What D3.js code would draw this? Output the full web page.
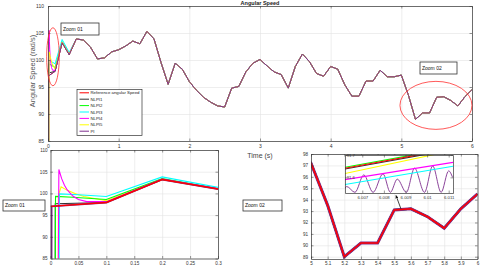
<!DOCTYPE html>
<html>
<head>
<meta charset="utf-8">
<script src="https://cdn.jsdelivr.net/npm/d3@7"></script>
<style>
  body { margin: 0; background: #fff; }
  text { font-family: "Liberation Sans", Arial, sans-serif; }
</style>
</head>
<body>
<div class="chart"></div>
<script>
// ---- data ----
const seriesNames = ['Reference angular Speed', 'NLPI1', 'NLPI2', 'NLPI3', 'NLPI4', 'NLPI5', 'PI']
const seriesColors = ['#ff0000', '#333333', '#00ff00', '#00ffff', '#ff00ff', '#ffff00', '#7e2f8e']

// sample times 0 .. 6 s every 0.1 s
const times = d3.range(61).map(i => +(i * 0.1).toFixed(1))

const refSpeed = [97.0, 97.9, 103.2, 101.0, 103.9, 103.7, 102.4, 100.2, 100.4, 101.5,
                  101.9, 102.6, 103.5, 103.0, 105.3, 103.9, 99.5, 95.5, 99.4, 98.3,
                  96.0, 94.4, 93.1, 92.2, 91.5, 91.3, 94.8, 95.1, 97.8, 99.4,
                  100.1, 98.9, 97.8, 97.3, 94.8, 98.8, 101.1, 99.7, 97.5, 97.0,
                  98.8, 98.3, 95.4, 93.3, 93.3, 96.1, 96.1, 98.1, 96.9, 96.9,
                  97.2, 93.5, 89.0, 90.2, 90.2, 93.1, 93.2, 92.5, 91.5, 93.2, 94.5]

// start-up transients [t, speed], after these each controller follows the reference
const nlpi1Start = [[0, 0], [0.008, 0], [0.0085, 97.6], [0.1, 97.9]]
const nlpi2Start = [[0, 0], [0.007, 0], [0.009, 99.3], [0.04, 99.1], [0.1, 98.6], [0.2, 103.4], [0.3, 101.1]]
const nlpi3Start = [[0, 0], [0.013, 0], [0.016, 99.9], [0.05, 99.7], [0.1, 99.3], [0.2, 103.8], [0.3, 101.4]]
const nlpi4Start = [[0, 0], [0.010, 0], [0.015, 105.5], [0.02, 103.4], [0.025, 101.9], [0.03, 100.8],
                    [0.04, 99.4], [0.05, 98.6], [0.065, 98.1], [0.1, 98.1], [0.2, 103.3], [0.3, 101.1]]
const nlpi5Start = [[0, 0], [0.0135, 0], [0.014, 99.5], [0.019, 101.5], [0.03, 100.7], [0.045, 99.9],
                    [0.06, 99.3], [0.1, 98.3], [0.2, 103.3], [0.3, 101.1]]
const piStart = [[0, 0], [0.0015, 0], [0.002, 97.0], [0.1, 97.9]]

// inset of the zoom 02 panel (t around 6.007 .. 6.011 s)
const insetRef = [[6.0062, 91.641], [6.0112, 91.729]]
const insetNlpi1 = [[6.0062, 91.637], [6.0112, 91.725]]
const insetNlpi2 = [[6.0062, 91.645], [6.0112, 91.733]]
const insetNlpi3 = [[6.0062, 91.568], [6.0112, 91.650]]
const insetNlpi4 = [[6.0062, 91.590], [6.0112, 91.667]]
const insetNlpi5 = [[6.0062, 91.617], [6.0112, 91.720]]
const insetPi = [[6.0062, 91.55], [6.00628, 91.559], [6.00666, 91.533], [6.00707, 91.611], [6.0075, 91.533],
                 [6.00796, 91.616], [6.0083, 91.533], [6.00862, 91.592], [6.00904, 91.533], [6.00942, 91.641],
                 [6.00988, 91.533], [6.01026, 91.651], [6.01065, 91.533], [6.011, 91.629], [6.01118, 91.6]]

const mainXTicks = [0, 1, 2, 3, 4, 5, 6]
const mainYTicks = [85, 90, 95, 100, 105, 110]
const zoom1XTicks = [0, 0.05, 0.1, 0.15, 0.2, 0.25, 0.3]
const zoom2XTicks = [5, 5.1, 5.2, 5.3, 5.4, 5.5, 5.6, 5.7, 5.8, 5.9, 6]
const zoom2YTicks = [89, 90, 91, 92, 93, 94, 95, 96, 97, 98]
const insetXTicks = [6.007, 6.008, 6.009, 6.01, 6.011]
const insetYTicks = [91.6, 91.7]

// ---- build series ----
const refPoints = times.map((t, i) => [t, refSpeed[i]])
function follow(start) {
    const last = start[start.length - 1][0]
    return start.concat(refPoints.filter(p => p[0] > last + 1e-9))
}
const allSeries = [refPoints, follow(nlpi1Start), follow(nlpi2Start), follow(nlpi3Start),
                   follow(nlpi4Start), follow(nlpi5Start), follow(piStart)]
const insetSeries = [insetRef, insetNlpi1, insetNlpi2, insetNlpi3, insetNlpi4, insetNlpi5, insetPi]

// ---- drawing ----
const svg = d3.select('.chart').append('svg')
    .attr('width', 480)
    .attr('height', 270)

svg.append('rect').attr('width', 480).attr('height', 270).attr('fill', '#fff')

let clipCount = 0

function Panel(o) {
    const x = d3.scaleLinear().domain(o.xDomain).range([o.left, o.right])
    const y = d3.scaleLinear().domain(o.yDomain).range([o.bottom, o.top])
    const w = o.right - o.left, h = o.bottom - o.top
    const g = svg.append('g')

    g.append('rect')
        .attr('x', o.left).attr('y', o.top).attr('width', w).attr('height', h)
        .attr('fill', '#fff')

    if (o.grid) {
        g.append('g')
            .attr('transform', `translate(0,${o.bottom})`)
            .call(d3.axisBottom(x).tickValues(o.xTicks).tickSize(-h).tickFormat(''))
            .call(a => a.select('.domain').remove())
            .selectAll('line').attr('stroke', '#e2e2e2').attr('stroke-width', 0.6)
        g.append('g')
            .attr('transform', `translate(${o.left},0)`)
            .call(d3.axisLeft(y).tickValues(o.yTicks).tickSize(-w).tickFormat(''))
            .call(a => a.select('.domain').remove())
            .selectAll('line').attr('stroke', '#e2e2e2').attr('stroke-width', 0.6)
    }

    const id = 'clip' + (clipCount++)
    g.append('clipPath').attr('id', id)
        .append('rect')
        .attr('x', o.left).attr('y', o.top).attr('width', w).attr('height', h)
    const plot = g.append('g').attr('clip-path', `url(#${id})`)

    const fs = o.fontSize || 5
    const styleAxis = a => {
        a.attr('font-size', fs).attr('font-family', '"Liberation Sans", Arial, sans-serif')
        a.selectAll('text').attr('fill', '#333')
        a.selectAll('line').attr('stroke', '#333').attr('stroke-width', 0.5)
        a.select('.domain').attr('stroke', '#333').attr('stroke-width', 0.7)
    }

    g.append('g')
        .attr('transform', `translate(0,${o.bottom})`)
        .call(d3.axisBottom(x).tickValues(o.xTicks).tickSize(-2.5).tickSizeOuter(0)
            .tickPadding(o.xPad || 3).tickFormat(o.xFmt || (d => d)))
        .call(styleAxis)
    g.append('g')
        .attr('transform', `translate(${o.left},0)`)
        .call(d3.axisLeft(y).tickValues(o.yTicks).tickSize(-2.5).tickSizeOuter(0)
            .tickPadding(o.yPad || 3).tickFormat(o.yFmt || (d => d)))
        .call(styleAxis)
    g.append('g')
        .attr('transform', `translate(0,${o.top})`)
        .call(d3.axisTop(x).tickValues(o.xTicks).tickSize(-2.5).tickSizeOuter(0).tickFormat(''))
        .call(styleAxis)
    g.append('g')
        .attr('transform', `translate(${o.right},0)`)
        .call(d3.axisRight(y).tickValues(o.yTicks).tickSize(-2.5).tickSizeOuter(0).tickFormat(''))
        .call(styleAxis)

    const line = d3.line().x(d => x(d[0])).y(d => y(d[1]))

    return { x, y, g, plot, line }
}

function labelBox(x0, y0, w, h, txt) {
    svg.append('rect')
        .attr('x', x0).attr('y', y0).attr('width', w).attr('height', h)
        .attr('fill', '#fff').attr('stroke', '#333').attr('stroke-width', 0.8)
    svg.append('text')
        .attr('x', x0 + 2).attr('y', y0 + h / 2 + 1.8)
        .attr('font-size', 5).attr('fill', '#111')
        .text(txt)
}

// main chart
const main = Panel({
    left: 48, right: 472, top: 6, bottom: 141,
    xDomain: [0, 6], yDomain: [85, 110],
    xTicks: mainXTicks, yTicks: mainYTicks, grid: true, yPad: 4
})

allSeries.forEach((s, i) => {
    main.plot.append('path')
        .datum(s)
        .attr('d', main.line)
        .attr('fill', 'none')
        .attr('stroke', seriesColors[i])
        .attr('stroke-width', 1)
})

svg.append('text')
    .attr('x', 260).attr('y', 4.5)
    .attr('text-anchor', 'middle')
    .attr('font-size', 5.5).attr('font-weight', 'bold').attr('fill', '#222')
    .text('Angular Speed')

svg.append('text')
    .attr('x', 260).attr('y', 158)
    .attr('text-anchor', 'middle')
    .attr('font-size', 7).attr('fill', '#444')
    .text('Time (s)')

svg.append('text')
    .attr('transform', 'translate(35,71) rotate(-90)')
    .attr('text-anchor', 'middle')
    .attr('font-size', 7.4).attr('fill', '#555')
    .text('Angular Speed (rad/s)')

// red ellipses marking the zoomed areas
svg.append('ellipse')
    .attr('cx', main.x(0.07)).attr('cy', main.y(100.6)).attr('rx', 6.3).attr('ry', 29)
    .attr('fill', 'none').attr('stroke', '#ff3030').attr('stroke-width', 0.8)
svg.append('ellipse')
    .attr('cx', main.x(5.49)).attr('cy', main.y(91.6)).attr('rx', 36).attr('ry', 24)
    .attr('fill', 'none').attr('stroke', '#ff3030').attr('stroke-width', 0.8)

labelBox(61, 23, 38, 12, 'Zoom 01')
labelBox(420, 62, 37, 12, 'Zoom 02')

// legend
const legend = svg.append('g')
legend.append('rect')
    .attr('x', 77).attr('y', 89.5).attr('width', 65).attr('height', 46)
    .attr('fill', '#fff').attr('stroke', '#333').attr('stroke-width', 0.7)
seriesNames.forEach((name, i) => {
    const yy = 92.8 + i * 6.4
    legend.append('line')
        .attr('x1', 79.5).attr('x2', 89).attr('y1', yy).attr('y2', yy)
        .attr('stroke', seriesColors[i]).attr('stroke-width', 1)
    legend.append('text')
        .attr('x', 90.5).attr('y', yy + 1.5)
        .attr('font-size', 4.3).attr('fill', '#222')
        .text(name)
})

// zoom 01 panel
const z1 = Panel({
    left: 50.5, right: 218, top: 150, bottom: 258.5,
    xDomain: [0, 0.3], yDomain: [85, 110],
    xTicks: zoom1XTicks, yTicks: mainYTicks, grid: true, fontSize: 4.6
})
const z1Order = [5, 1, 2, 3, 4, 6, 0]
z1Order.forEach(i => {
    z1.plot.append('path')
        .datum(allSeries[i])
        .attr('d', z1.line)
        .attr('fill', 'none')
        .attr('stroke', seriesColors[i])
        .attr('stroke-width', i === 0 ? 1.4 : (i === 6 ? 1.8 : 1.1))
})
labelBox(3, 200, 42, 11, 'Zoom 01')

// zoom 02 panel
const z2 = Panel({
    left: 311, right: 477.5, top: 154, bottom: 259,
    xDomain: [5, 6], yDomain: [88.8, 98],
    xTicks: zoom2XTicks, yTicks: zoom2YTicks, grid: true, fontSize: 4.6
})
const z2Order = [5, 4, 3, 2, 1, 6, 0]
z2Order.forEach(i => {
    z2.plot.append('path')
        .datum(allSeries[i])
        .attr('d', z2.line)
        .attr('fill', 'none')
        .attr('stroke', seriesColors[i])
        .attr('stroke-width', i === 6 ? 3 : (i === 0 ? 1.5 : 2))
})
labelBox(243, 200, 39, 11, 'Zoom 02')

// inset inside zoom 02
const ins = Panel({
    left: 345, right: 453, top: 155, bottom: 193,
    xDomain: [6.0062, 6.0112], yDomain: [91.53, 91.7],
    xTicks: insetXTicks, yTicks: insetYTicks, grid: false, fontSize: 4.3,
    xFmt: d => d3.format('.3~f')(d), yFmt: d => d.toFixed(1), yPad: -10
})
const insOrder = [6, 3, 4, 5, 2, 1, 0]
insOrder.forEach(i => {
    ins.plot.append('path')
        .datum(insetSeries[i])
        .attr('d', ins.line.curve(i === 6 ? d3.curveMonotoneX : d3.curveLinear))
        .attr('fill', 'none')
        .attr('stroke', seriesColors[i])
        .attr('stroke-width', i === 6 ? 0.9 : 1.1)
})

// arrow from the curve to the inset
svg.append('defs').append('marker')
    .attr('id', 'arrowHead')
    .attr('viewBox', '0 0 10 10')
    .attr('refX', 9).attr('refY', 5)
    .attr('markerWidth', 4).attr('markerHeight', 4)
    .attr('orient', 'auto')
    .append('path').attr('d', 'M0,0L10,5L0,10z').attr('fill', '#111')
svg.append('line')
    .attr('x1', z2.x(5.54)).attr('y1', z2.y(93.2))
    .attr('x2', 396).attr('y2', 195.5)
    .attr('stroke', '#111').attr('stroke-width', 0.8)
    .attr('marker-end', 'url(#arrowHead)')
</script>
</body>
</html>
